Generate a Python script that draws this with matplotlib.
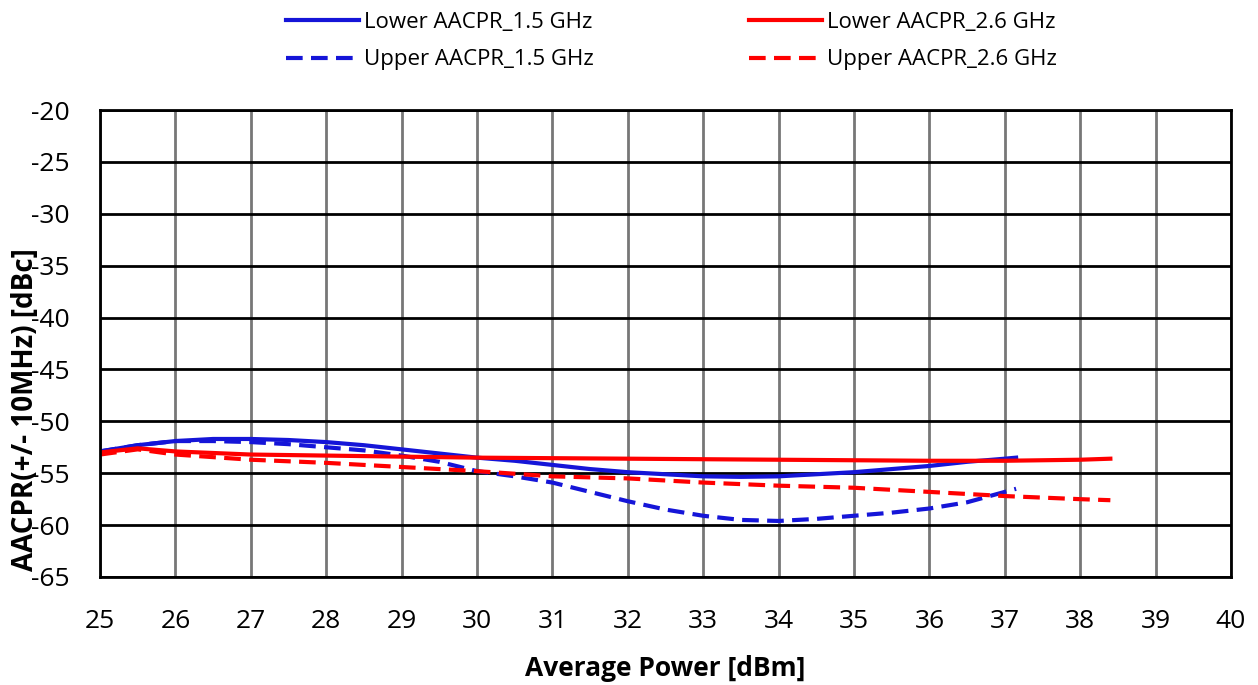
import numpy as np
import matplotlib.pyplot as plt

plt.rcParams['font.family'] = ['Open Sans', 'DejaVu Sans']
plt.rcParams['axes.unicode_minus'] = False

# Lower / Upper AACPR at 1.5 GHz
x_15 = [25, 25.5, 26, 26.5, 27, 27.5, 28, 28.5, 29, 29.5, 30, 30.5, 31, 31.5, 32, 32.5,
        33, 33.5, 34, 34.5, 35, 35.5, 36, 36.5, 37, 37.15]
lower_15 = [-52.9, -52.3, -51.9, -51.7, -51.7, -51.8, -52.0, -52.3, -52.7, -53.1, -53.5,
            -53.8, -54.2, -54.6, -54.9, -55.1, -55.3, -55.35, -55.3, -55.1, -54.9, -54.6,
            -54.3, -53.9, -53.6, -53.5]
upper_15 = [-52.9, -52.3, -51.9, -51.9, -52.0, -52.2, -52.5, -52.8, -53.3, -53.9, -54.8,
            -55.3, -55.9, -56.8, -57.7, -58.5, -59.1, -59.5, -59.6, -59.4, -59.1, -58.8,
            -58.4, -57.8, -56.8, -56.5]

# Lower / Upper AACPR at 2.6 GHz
x_26 = [25, 25.5, 26, 27, 28, 29, 30, 31, 32, 33, 34, 35, 36, 37, 38, 38.4]
lower_26 = [-53.0, -52.6, -52.9, -53.2, -53.3, -53.4, -53.5, -53.55, -53.6, -53.65, -53.7,
            -53.75, -53.8, -53.8, -53.7, -53.6]
upper_26 = [-53.2, -52.7, -53.2, -53.7, -54.0, -54.4, -54.8, -55.3, -55.5, -55.9, -56.2,
            -56.4, -56.8, -57.2, -57.5, -57.6]

fig = plt.figure(figsize=(12.58, 6.85), dpi=100)
ax = fig.add_axes([100 / 1258, 1 - 577 / 685, 1131 / 1258, 467 / 685])

dash = (0, (4, 2))
ax.plot(x_15, lower_15, color='#1515d8', lw=3, label='Lower AACPR_1.5 GHz')
ax.plot(x_15, upper_15, color='#1515d8', lw=3, ls=dash, label='Upper AACPR_1.5 GHz')
ax.plot(x_26, lower_26, color='#ff0000', lw=3, label='Lower AACPR_2.6 GHz')
ax.plot(x_26, upper_26, color='#ff0000', lw=3, ls=dash, label='Upper AACPR_2.6 GHz')

ax.set_xlim(25, 40)
ax.set_ylim(-65, -20)
ax.set_xticks(np.arange(25, 41, 1))
ax.set_yticks(np.arange(-65, -19, 5))
ax.xaxis.grid(True, color='#777777', lw=2)
ax.yaxis.grid(True, color='black', lw=2)
ax.set_axisbelow(True)
for s in ax.spines.values():
    s.set_linewidth(2)
ax.tick_params(length=0, labelsize=19)
ax.tick_params(axis='x', pad=23)
ax.tick_params(axis='y', pad=22)

ax.set_xlabel('Average Power [dBm]', fontsize=19, fontweight='bold', labelpad=15)
fig.text(26 / 1258, 1 - 410 / 685, 'AACPR(+/- 10MHz) [dBc]', rotation=90, fontsize=20,
         fontweight='bold', ha='center', va='center')

fig.legend(loc='upper center', bbox_to_anchor=(0.534, 1.012), ncol=2, frameon=False,
           fontsize=16, handlelength=3.25, columnspacing=7.0, labelspacing=0.75,
           handletextpad=0.25)

fig.savefig('out.png', dpi=100)
